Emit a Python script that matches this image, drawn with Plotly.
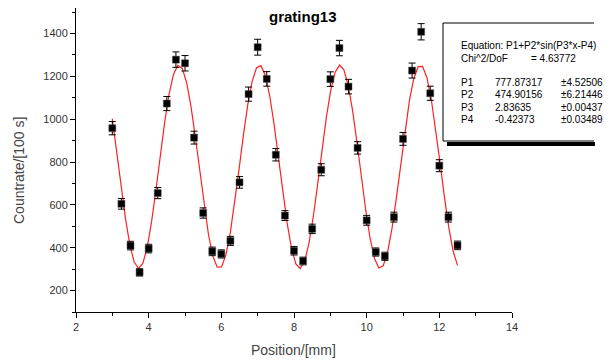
import plotly.graph_objects as go
import numpy as np

# ---- data ----
position_mm = [3.00, 3.25, 3.50, 3.75, 4.00, 4.25, 4.50, 4.75, 5.00, 5.25,
               5.50, 5.75, 6.00, 6.25, 6.50, 6.75, 7.00, 7.25, 7.50, 7.75,
               8.00, 8.25, 8.50, 8.75, 9.00, 9.25, 9.50, 9.75, 10.00, 10.25,
               10.50, 10.75, 11.00, 11.25, 11.50, 11.75, 12.00, 12.25, 12.50]
countrate = [958, 605, 410, 285, 396, 655, 1073, 1278, 1261, 914,
             562, 383, 371, 432, 705, 1117, 1336, 1188, 834, 550,
             386, 338, 488, 764, 1187, 1332, 1152, 866, 528, 380,
             360, 543, 908, 1227, 1408, 1121, 783, 543, 411]
count_err = [31, 25, 20, 17, 20, 26, 33, 36, 36, 30,
             24, 20, 19, 21, 27, 33, 37, 34, 29, 23,
             20, 18, 22, 28, 34, 36, 34, 29, 23, 19,
             19, 23, 30, 35, 38, 33, 28, 23, 20]

# fit parameters shown in the chart's box
P1, P2, P3, P4 = 777.87317, 474.90156, 2.83635, -0.42373
P_err = ["±4.52506", "±6.21446", "±0.00437", "±0.03489"]
P_val = ["777.87317", "474.90156", "2.83635", "-0.42373"]
P_name = ["P1", "P2", "P3", "P4"]
chi2_dof = "4.63772"

x_ticks = [2, 4, 6, 8, 10, 12, 14]
y_ticks = [200, 400, 600, 800, 1000, 1200, 1400]

# fit curve from the displayed model P1+P2*sin(P3*x-P4)
fit_x = np.linspace(min(position_mm), max(position_mm), 80)
fit_y = P1 + P2 * np.sin(P3 * fit_x - P4)

# ---- layout geometry (page pixels; page body has an 8px margin) ----
OFF = 8
W, H = 612 - OFF, 363 - OFF
PL, PR, PT, PB = 76, 512, 8, 312


def px(xp):
    return (xp - PL) / (PR - PL)


def py(yp):
    return (PB - yp) / (PB - PT)


FONT = "Arial, Liberation Sans, sans-serif"

fig = go.Figure()
fig.add_trace(go.Scatter(x=fit_x, y=fit_y, mode="lines",
                         line=dict(color="#ff2020", width=1.2),
                         showlegend=False, hoverinfo="skip"))
fig.add_trace(go.Scatter(x=position_mm, y=countrate, mode="markers",
                         marker=dict(symbol="square", size=7, color="black",
                                     line=dict(color="#555555", width=0.5)),
                         error_y=dict(type="data", array=count_err, visible=True,
                                      color="black", thickness=1, width=3.5),
                         showlegend=False))

axis_common = dict(showline=True, linecolor="black", linewidth=1,
                   showgrid=False, zeroline=False, ticks="outside",
                   tickcolor="black", ticklen=5, tickwidth=1,
                   tickfont=dict(family=FONT, size=11, color="#333333"))

fig.update_xaxes(range=[2, 14], tickvals=x_ticks,
                 ticktext=[str(v) for v in x_ticks],
                 minor=dict(dtick=1, tick0=0, ticks="outside", ticklen=3,
                            tickcolor="black"),
                 **axis_common)
fig.update_yaxes(range=[100, 1519], tickvals=y_ticks,
                 ticktext=[str(v) for v in y_ticks],
                 minor=dict(dtick=100, tick0=0, ticks="outside", ticklen=3,
                            tickcolor="black"),
                 **axis_common)

ann = []
ann.append(dict(text="<b>grating13</b>", x=px(303), y=py(17), xref="paper",
                yref="paper", showarrow=False, xanchor="center", yanchor="middle",
                font=dict(family=FONT, size=15, color="black")))
ann.append(dict(text="Position/[mm]", x=px(293), y=py(350), xref="paper",
                yref="paper", showarrow=False, xanchor="center", yanchor="middle",
                font=dict(family=FONT, size=14, color="#444444")))
ann.append(dict(text="Countrate/[100 s]", x=px(19), y=py(171), xref="paper",
                yref="paper", showarrow=False, xanchor="center", yanchor="middle",
                textangle=-90,
                font=dict(family=FONT, size=14, color="#444444")))

box_font = dict(family=FONT, size=10, color="black")
ann.append(dict(text="Equation: P1+P2*sin(P3*x-P4)", x=px(459), y=py(45),
                xref="paper", yref="paper", showarrow=False, xanchor="left",
                yanchor="middle", font=box_font))
ann.append(dict(text="Chi^2/DoF", x=px(459), y=py(58), xref="paper",
                yref="paper", showarrow=False, xanchor="left", yanchor="middle",
                font=box_font))
ann.append(dict(text="= " + chi2_dof, x=px(529), y=py(58), xref="paper",
                yref="paper", showarrow=False, xanchor="left", yanchor="middle",
                font=box_font))
for i in range(4):
    yy = 82.5 + i * 12.3
    for xx, t in [(459, P_name[i]), (493, P_val[i]), (559, P_err[i])]:
        ann.append(dict(text=t, x=px(xx), y=py(yy), xref="paper", yref="paper",
                        showarrow=False, xanchor="left", yanchor="middle",
                        font=box_font))

shapes = [
    dict(type="rect", xref="paper", yref="paper", x0=px(443), x1=px(594),
         y0=py(141), y1=py(23), line=dict(width=0), fillcolor="white",
         layer="below"),
    dict(type="line", xref="paper", yref="paper", x0=px(443), x1=px(594),
         y0=py(23), y1=py(23), line=dict(color="black", width=1)),
    dict(type="line", xref="paper", yref="paper", x0=px(443), x1=px(443),
         y0=py(23), y1=py(141), line=dict(color="black", width=1)),
    dict(type="line", xref="paper", yref="paper", x0=px(443), x1=px(594),
         y0=py(141), y1=py(141), line=dict(color="black", width=1)),
    dict(type="line", xref="paper", yref="paper", x0=px(447), x1=px(595),
         y0=py(144), y1=py(144), line=dict(color="black", width=4)),
]

fig.update_layout(width=W, height=H, autosize=False,
                  margin=dict(l=PL - OFF, r=W - (PR - OFF), t=PT - OFF,
                              b=H - (PB - OFF), pad=0),
                  paper_bgcolor="white", plot_bgcolor="white",
                  annotations=ann, shapes=shapes,
                  font=dict(family=FONT))

fig.write_html("out.html")
